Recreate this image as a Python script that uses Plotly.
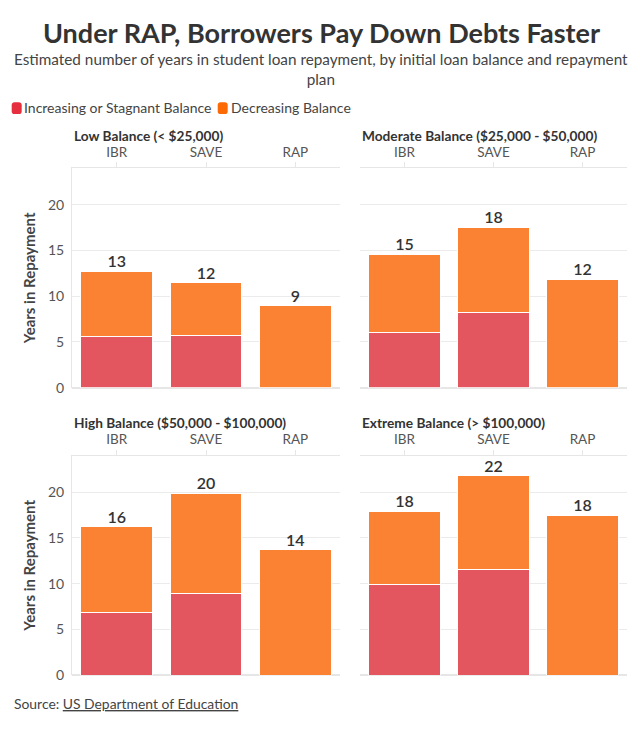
import plotly.graph_objects as go
from plotly.subplots import make_subplots

# the page body has an 8px margin on every side, so the figure is drawn smaller
OFF = 8
W, H = 642 - 2 * OFF, 731 - 2 * OFF
FONT = "Lato"

categories = ["IBR", "SAVE", "RAP"]
panel_titles = ["Low Balance (< $25,000)", "Moderate Balance ($25,000 - $50,000)",
                "High Balance ($50,000 - $100,000)", "Extreme Balance (> $100,000)"]

# years with an increasing or stagnant balance
increasing = [
    [5.6, 5.7, 0],
    [6.05, 8.2, 0],
    [6.8, 8.9, 0],
    [9.9, 11.6, 0],
]
# years with a decreasing balance
decreasing = [
    [7.15, 5.8, 8.95],
    [8.55, 9.35, 11.85],
    [9.4, 11.0, 13.7],
    [8.0, 10.2, 17.5],
]
total_labels = [
    ["13", "12", "9"],
    ["15", "18", "12"],
    ["16", "20", "14"],
    ["18", "22", "18"],
]

RED = "#E3555F"
ORANGE = "#FA8232"
RED_KEY = "#E52F3E"
ORANGE_KEY = "#FC6A06"

def px_x(p):
    return (p - OFF) / W

def px_y(p):
    return 1 - (p - OFF) / H

def rounded_key(x0, y0, x1, y1, r):
    # rounded rectangle path in paper coords, given page pixels
    pts = "M {a} {b} L {c} {b} Q {d} {b} {d} {e} L {d} {f} Q {d} {g} {c} {g} L {a} {g} Q {h} {g} {h} {f} L {h} {e} Q {h} {b} {a} {b} Z"
    return pts.format(a=px_x(x0 + r), b=px_y(y0), c=px_x(x1 - r), d=px_x(x1),
                      e=px_y(y0 + r), f=px_y(y1 - r), g=px_y(y1), h=px_x(x0))

fig = make_subplots(rows=2, cols=2)

positions = [(1, 1), (1, 2), (2, 1), (2, 2)]
for i, (r, c) in enumerate(positions):
    fig.add_trace(go.Bar(x=categories, y=increasing[i], name="Increasing or Stagnant Balance",
                         marker=dict(color=RED, line=dict(color="white", width=1)),
                         showlegend=False, hoverinfo="y"), row=r, col=c)
    fig.add_trace(go.Bar(x=categories, y=decreasing[i], name="Decreasing Balance",
                         marker=dict(color=ORANGE, line=dict(color="white", width=1)),
                         showlegend=False, hoverinfo="y"), row=r, col=c)
    totals = [a + b for a, b in zip(increasing[i], decreasing[i])]
    fig.add_trace(go.Scatter(x=categories, y=totals, text=total_labels[i], mode="text",
                             textposition="top center",
                             textfont=dict(family=FONT, size=16, color="#333333", weight=600),
                             showlegend=False, hoverinfo="skip"), row=r, col=c)

x_domains = [[px_x(72), px_x(340)], [px_x(360), px_x(627)]]
y_domains = [[px_y(392), px_y(170)], [px_y(682.7), px_y(460.7)]]

for i, (r, c) in enumerate(positions):
    fig.update_xaxes(domain=x_domains[c - 1], side="top", showline=True, linecolor="#E6E6E6",
                     ticks="outside", ticklen=5, tickcolor="#E6E6E6",
                     tickfont=dict(family=FONT, size=13.5, color="#555555"),
                     showgrid=False, row=r, col=c)
    fig.update_yaxes(domain=y_domains[r - 1], range=[0, 24], tickvals=[0, 5, 10, 15, 20],
                     showgrid=True, gridcolor="#EBEBEB", zeroline=True, zerolinecolor="#E6E6E6",
                     showline=(c == 1), linecolor="#E6E6E6",
                     showticklabels=(c == 1), ticklabelstandoff=4,
                     tickfont=dict(family=FONT, size=14, color="#555555"),
                     row=r, col=c)
    if c == 1:
        fig.update_yaxes(title=dict(text="<b>Years in Repayment</b>", standoff=8,
                                    font=dict(family=FONT, size=15, color="#444444")),
                         row=r, col=c)
    title_y = 137 if r == 1 else 427
    fig.add_annotation(text="<b>" + panel_titles[i] + "</b>", xref="paper", yref="paper",
                       x=x_domains[c - 1][0], y=px_y(title_y), xanchor="left", yanchor="middle",
                       showarrow=False, font=dict(family=FONT, size=13.7, color="#333333"))

fig.add_annotation(text="<b>Under RAP, Borrowers Pay Down Debts Faster</b>", xref="paper", yref="paper",
                   x=px_x(321), y=px_y(33), xanchor="center", yanchor="middle", showarrow=False,
                   font=dict(family=FONT, size=27, color="#333333"))
fig.add_annotation(text="Estimated number of years in student loan repayment, by initial loan balance and repayment<br>plan",
                   xref="paper", yref="paper", x=px_x(321), y=px_y(70), xanchor="center", yanchor="middle",
                   showarrow=False, font=dict(family=FONT, size=15.3, color="#444444"))

# legend: rounded keys plus labels
fig.add_shape(type="path", path=rounded_key(11.7, 103.3, 21.7, 115.3, 3), xref="paper", yref="paper",
              fillcolor=RED_KEY, line=dict(width=0))
fig.add_shape(type="path", path=rounded_key(217.7, 103.3, 227.7, 115.3, 3), xref="paper", yref="paper",
              fillcolor=ORANGE_KEY, line=dict(width=0))
fig.add_annotation(text="Increasing or Stagnant Balance", xref="paper", yref="paper",
                   x=px_x(22), y=px_y(109), xanchor="left", yanchor="middle", showarrow=False,
                   font=dict(family=FONT, size=14, color="#444444"))
fig.add_annotation(text="Decreasing Balance", xref="paper", yref="paper",
                   x=px_x(229), y=px_y(109), xanchor="left", yanchor="middle", showarrow=False,
                   font=dict(family=FONT, size=14, color="#444444"))

fig.add_annotation(text="Source: <u>US Department of Education</u>", xref="paper", yref="paper",
                   x=px_x(12), y=px_y(711), xanchor="left", yanchor="middle", showarrow=False,
                   font=dict(family=FONT, size=13.9, color="#444444"))

fig.update_layout(
    width=W, height=H,
    margin=dict(l=0, r=0, t=0, b=0),
    barmode="stack", bargap=0.2,
    plot_bgcolor="white", paper_bgcolor="white",
    font=dict(family=FONT, color="#444444"),
    showlegend=False,
)

fig.write_html("out.html", config={"displayModeBar": False})
